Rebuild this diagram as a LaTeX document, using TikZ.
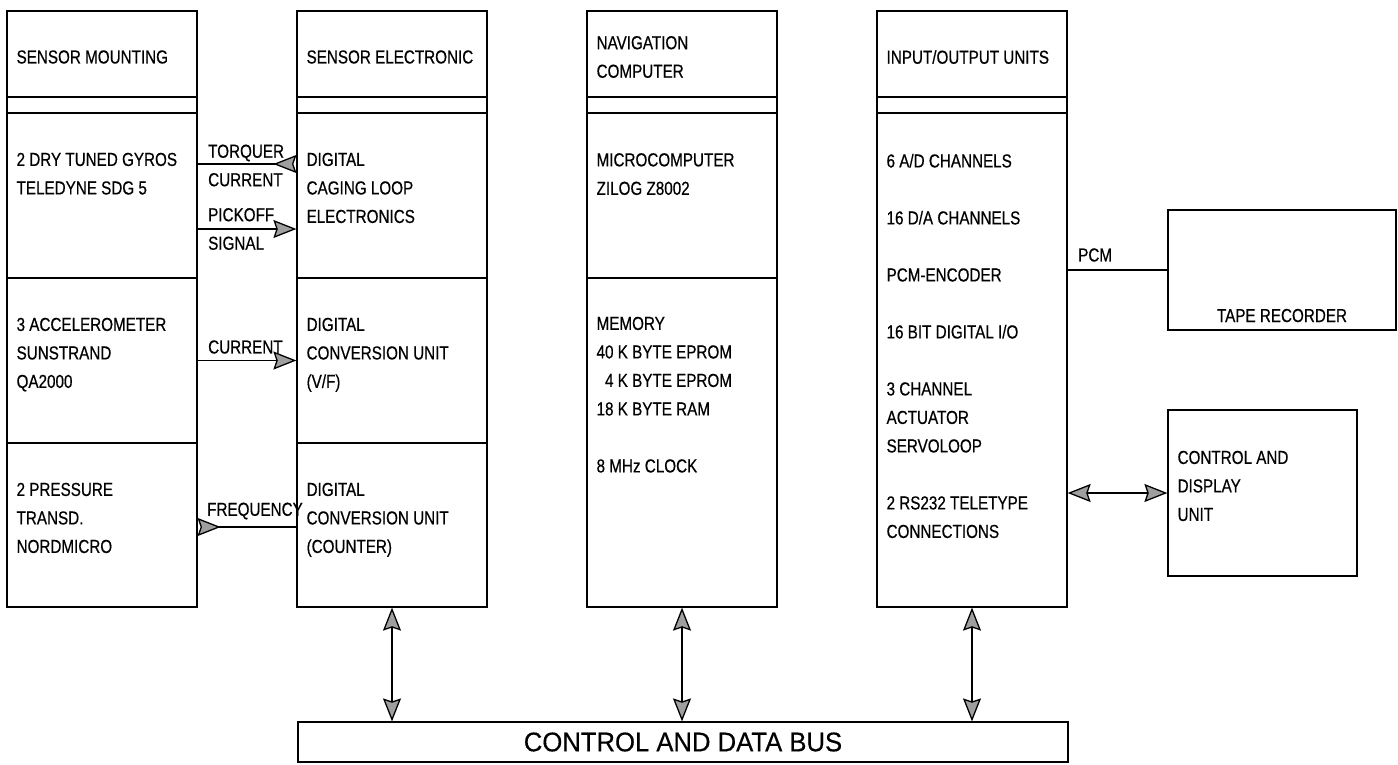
\documentclass[tikz,border=0pt]{standalone}
\usepackage{fontspec}
\setmainfont{Liberation Sans}
\newfontfamily\narrowsf[FakeStretch=0.81, FakeBold=0.5]{Liberation Sans}
\newfontfamily\bussf[FakeStretch=0.95, FakeBold=0.4]{Liberation Sans}
\usetikzlibrary{arrows.meta, positioning}

\tikzset{
  blk/.style={draw, line width=1.2pt, inner sep=0pt},
  txt/.style={font=\narrowsf\fontsize{18.8}{28.5}\selectfont, align=left, inner sep=0pt},
  link/.style={line width=1.2pt},
  bustip/.tip={Stealth[length=23pt, width=18pt, inset=3pt, fill=gray!75, line width=1.3pt]}
}

\begin{document}
\begin{tikzpicture}[x=1pt, y=-1pt]
    \useasboundingbox (0,0) rectangle (1398,764);

    % sensor mounting
    \node[blk, minimum width=190pt, minimum height=86pt] (mounthead) at (102,54) {};
    \node[blk, minimum width=190pt, minimum height=16pt] (mountgap) at (102,105) {};
    \node[blk, minimum width=190pt, minimum height=165pt] (gyro) at (102,195.5) {};
    \node[blk, minimum width=190pt, minimum height=165pt] (accel) at (102,360.5) {};
    \node[blk, minimum width=190pt, minimum height=164pt] (press) at (102,525) {};
    \node[txt, right=10pt of mounthead.west, yshift=-3pt] (mounttitle) {SENSOR MOUNTING};
    \node[txt, below right=40.2pt and 10pt of gyro.north west] (gyrotext) {2 DRY TUNED GYROS\\TELEDYNE SDG 5};
    \node[txt, below right=40.2pt and 10pt of accel.north west] (acceltext) {3 ACCELEROMETER\\SUNSTRAND\\QA2000};
    \node[txt, below right=40.2pt and 10pt of press.north west] (presstext) {2 PRESSURE\\TRANSD.\\NORDMICRO};

    % sensor electronic
    \node[blk, minimum width=190pt, minimum height=86pt] (elechead) at (392,54) {};
    \node[blk, minimum width=190pt, minimum height=16pt] (elecgap) at (392,105) {};
    \node[blk, minimum width=190pt, minimum height=165pt] (caging) at (392,195.5) {};
    \node[blk, minimum width=190pt, minimum height=165pt] (vfconv) at (392,360.5) {};
    \node[blk, minimum width=190pt, minimum height=164pt] (counter) at (392,525) {};
    \node[txt, right=10pt of elechead.west, yshift=-3pt] (electitle) {SENSOR ELECTRONIC};
    \node[txt, below right=40.2pt and 10pt of caging.north west] (cagingtext) {DIGITAL\\CAGING LOOP\\ELECTRONICS};
    \node[txt, below right=40.2pt and 10pt of vfconv.north west] (vfconvtext) {DIGITAL\\CONVERSION UNIT\\(V/F)};
    \node[txt, below right=40.2pt and 10pt of counter.north west] (countertext) {DIGITAL\\CONVERSION UNIT\\(COUNTER)};

    % navigation computer
    \node[blk, minimum width=190pt, minimum height=86pt] (navhead) at (682,54) {};
    \node[blk, minimum width=190pt, minimum height=16pt] (navgap) at (682,105) {};
    \node[blk, minimum width=190pt, minimum height=165pt] (micro) at (682,195.5) {};
    \node[blk, minimum width=190pt, minimum height=329pt] (memory) at (682,442.5) {};
    \node[txt, right=10pt of navhead.west, yshift=-3pt] (navtitle) {NAVIGATION\\COMPUTER};
    \node[txt, below right=40.6pt and 10pt of micro.north west] (microtext) {MICROCOMPUTER\\ZILOG Z8002};
    \node[txt, below right=39.2pt and 10pt of memory.north west] (memorytext) {MEMORY\\40 K BYTE EPROM\\\phantom{4}4 K BYTE EPROM\\18 K BYTE RAM\\[28.5pt]8 MHz CLOCK};

    % input/output units
    \node[blk, minimum width=190pt, minimum height=86pt] (iohead) at (972,54) {};
    \node[blk, minimum width=190pt, minimum height=16pt] (iogap) at (972,105) {};
    \node[blk, minimum width=190pt, minimum height=494pt] (iobody) at (972,360) {};
    \node[txt, right=10pt of iohead.west, yshift=-3pt] (iotitle) {INPUT/OUTPUT UNITS};
    \node[txt, below right=41.2pt and 10pt of iobody.north west] (iotext) {6 A/D CHANNELS\\[28.5pt]16 D/A CHANNELS\\[28.5pt]PCM-ENCODER\\[28.5pt]16 BIT DIGITAL I/O\\[28.5pt]3 CHANNEL\\ACTUATOR\\SERVOLOOP\\[28.5pt]2 RS232 TELETYPE\\CONNECTIONS};

    % peripherals
    \node[blk, minimum width=228pt, minimum height=120pt] (tape) at (1282,270) {};
    \node[txt, above=8.2pt of tape.south] (tapetext) {TAPE RECORDER};
    \node[blk, minimum width=189pt, minimum height=166pt] (cdu) at (1262.5,493) {};
    \node[txt, below right=41.2pt and 10pt of cdu.north west] (cdutext) {CONTROL AND\\DISPLAY\\UNIT};

    \node[blk, minimum width=770pt, minimum height=40pt, font=\bussf\fontsize{27}{30}\selectfont] (bus) at (683,742) {CONTROL AND DATA BUS};

    % signals between sensors and electronics
    \draw[link, {bustip[reversed]}-] ([yshift=31.5pt]caging.west) -- ([yshift=31.5pt]gyro.east);
    \draw[link, -{bustip}] ([yshift=-33.5pt]gyro.east) -- ([yshift=-33.5pt]caging.west);
    \draw[link, -{bustip}] (accel.east) -- (vfconv.west);
    \draw[link, {bustip[reversed]}-] ([yshift=-2pt]press.east) -- ([yshift=-2pt]counter.west);
    \node[txt, anchor=west] (torqlbl) at (208,165.5) {TORQUER\\CURRENT};
    \node[txt, anchor=west] (picklbl) at (208,229) {PICKOFF\\SIGNAL};
    \node[txt, anchor=west] (curlbl) at (208,347) {CURRENT};
    \node[txt, anchor=west] (freqlbl) at (207,511) {FREQUENCY};

    % bus and peripheral links
    \draw[link, {bustip}-{bustip}] (counter.south) -- (counter.south |- bus.north);
    \draw[link, {bustip}-{bustip}] (memory.south) -- (memory.south |- bus.north);
    \draw[link, {bustip}-{bustip}] (iobody.south) -- (iobody.south |- bus.north);
    \draw[link, {bustip}-{bustip}] (cdu.west) -- (cdu.west -| iobody.east);
    \draw[link] (tape.west) -- (tape.west -| iobody.east);
    \node[txt, anchor=west] (pcmlbl) at (1078,255) {PCM};
\end{tikzpicture}
\end{document}
